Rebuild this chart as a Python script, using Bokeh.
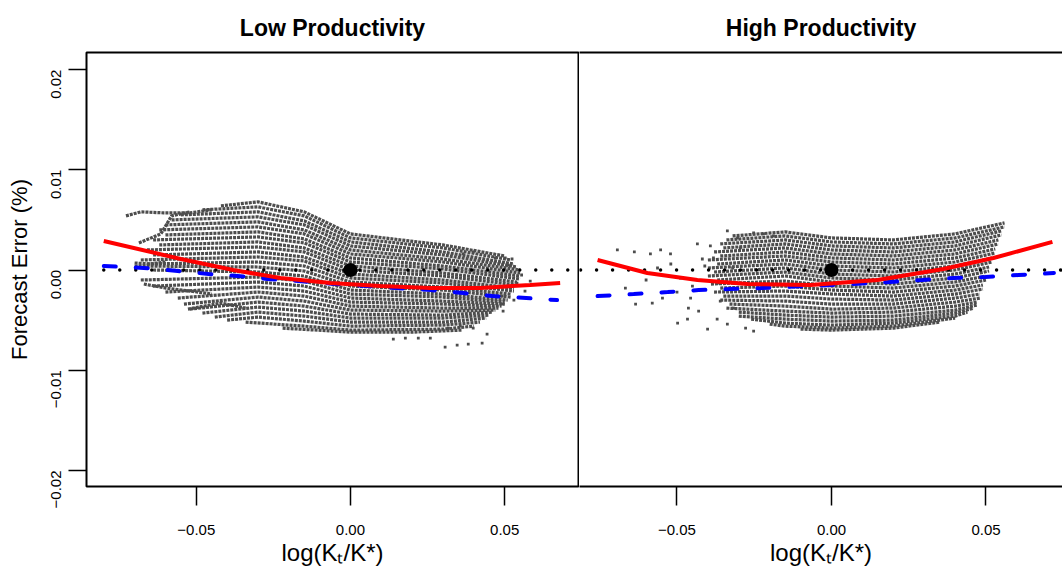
import math
from bokeh.plotting import figure
from bokeh.models import Range1d, FixedTicker, LinearAxis
from bokeh.layouts import row
from bokeh.embed import file_html
from bokeh.resources import INLINE

# ---------------- data ----------------
panel_titles = ["Low Productivity", "High Productivity"]
x_axis_title = "log(K\u209c/K*)"
y_axis_title = "Forecast Error (%)"
x_ticks = [-0.05, 0.0, 0.05]
x_tick_labels = ["\u22120.05", "0.00", "0.05"]
y_ticks = [-0.02, -0.01, 0.0, 0.01, 0.02]
y_tick_labels = ["\u22120.02", "\u22120.01", "0.00", "0.01", "0.02"]

# steady state point
ss_x = [0.0]
ss_y = [0.0]

# Low productivity: fitted curves
low_red_x = [-0.080, -0.055, -0.038, -0.0227, -0.0065, 0.0097, 0.0259, 0.042, 0.0583, 0.068]
low_red_y = [0.0029, 0.0011, 0.0000, -0.0008, -0.0013, -0.0016, -0.0018, -0.0018, -0.0015, -0.0013]
low_blue_x = [-0.080, -0.067, -0.056, -0.046, -0.0366, -0.027, -0.017, 0.000, 0.015, 0.026, 0.0366, 0.046, 0.057, 0.067]
low_blue_y = [0.0004, 0.0002, -0.0001, -0.0004, -0.0006, -0.0009, -0.0011, -0.0015, -0.0018, -0.0020, -0.0023, -0.0026, -0.0028, -0.0030]
low_zero_x = [-0.080, 0.0739]
low_zero_y = [0.0, 0.0]

# High productivity: fitted curves
high_red_x = [-0.0757, -0.0596, -0.0434, -0.0272, -0.0068, 0.0149, 0.0362, 0.0524, 0.0715]
high_red_y = [0.0010, -0.0003, -0.0010, -0.0014, -0.0015, -0.0010, 0.0001, 0.0012, 0.0028]
high_blue_x = [-0.0757, -0.064, -0.053, -0.043, -0.0327, -0.0223, 0.000, 0.019, 0.0294, 0.0395, 0.0498, 0.0605, 0.0720]
high_blue_y = [-0.0026, -0.0024, -0.0022, -0.0020, -0.0019, -0.0018, -0.0015, -0.0012, -0.0010, -0.0008, -0.0007, -0.0005, -0.0003]
high_zero_x = [-0.0812, 0.0748]
high_zero_y = [0.0, 0.0]

# Low productivity: simulated paths (streaks of points)
low_inner_x = [-0.030, -0.015, 0.000, 0.030]
low_path_start = [-0.042, -0.048, -0.055, -0.058, -0.060, -0.062, -0.060, -0.064, -0.062, -0.066,
                  -0.064, -0.068, -0.066, -0.070, -0.064, -0.068, -0.064, -0.060, -0.056, -0.054,
                  -0.052, -0.048, -0.044, -0.040]
low_path_end = [0.050, 0.052, 0.053, 0.054, 0.055, 0.055, 0.055, 0.055, 0.054, 0.054,
                0.053, 0.053, 0.052, 0.052, 0.051, 0.050, 0.050, 0.049, 0.048, 0.047,
                0.046, 0.045, 0.044, 0.042]
low_path_y = [
    [0.0064, 0.0068, 0.0058, 0.0036, 0.0025, 0.0014],
    [0.0060, 0.0063, 0.0054, 0.0032, 0.0022, 0.0010],
    [0.0055, 0.0058, 0.0049, 0.0028, 0.0018, 0.0006],
    [0.0050, 0.0053, 0.0045, 0.0024, 0.0015, 0.0003],
    [0.0045, 0.0048, 0.0040, 0.0020, 0.0011, 0.0000],
    [0.0040, 0.0043, 0.0036, 0.0016, 0.0008, -0.0003],
    [0.0035, 0.0038, 0.0031, 0.0012, 0.0004, -0.0006],
    [0.0030, 0.0033, 0.0027, 0.0008, 0.0001, -0.0009],
    [0.0025, 0.0028, 0.0022, 0.0004, -0.0003, -0.0012],
    [0.0020, 0.0023, 0.0018, 0.0000, -0.0006, -0.0015],
    [0.0015, 0.0018, 0.0013, -0.0004, -0.0010, -0.0018],
    [0.0010, 0.0013, 0.0009, -0.0008, -0.0013, -0.0021],
    [0.0006, 0.0008, 0.0004, -0.0012, -0.0017, -0.0024],
    [0.0004, 0.0003, -0.0001, -0.0016, -0.0020, -0.0027],
    [0.0000, -0.0002, -0.0006, -0.0020, -0.0024, -0.0030],
    [-0.0010, -0.0007, -0.0011, -0.0024, -0.0027, -0.0032],
    [-0.0016, -0.0012, -0.0016, -0.0028, -0.0031, -0.0034],
    [-0.0022, -0.0017, -0.0021, -0.0032, -0.0034, -0.0036],
    [-0.0028, -0.0022, -0.0026, -0.0036, -0.0038, -0.0038],
    [-0.0034, -0.0027, -0.0031, -0.0040, -0.0041, -0.0040],
    [-0.0039, -0.0032, -0.0036, -0.0044, -0.0045, -0.0042],
    [-0.0043, -0.0037, -0.0041, -0.0048, -0.0048, -0.0045],
    [-0.0047, -0.0042, -0.0046, -0.0052, -0.0052, -0.0048],
    [-0.0050, -0.0047, -0.0051, -0.0056, -0.0055, -0.0052],
]
# extra short paths (tails and bottom edge)
low_extra_x = [
    [-0.0728, -0.068, -0.0605, -0.052, -0.045],
    [-0.0686, -0.0615, -0.058, -0.052],
    [-0.070, -0.065, -0.060],
    [-0.067, -0.060, -0.052, -0.045],
    [-0.0527, -0.042, -0.034],
    [-0.034, -0.015, 0.000, 0.030, 0.040],
    [-0.022, 0.000, 0.020, 0.036],
]
low_extra_y = [
    [0.0054, 0.0058, 0.0057, 0.0057, 0.0060],
    [0.0027, 0.0036, 0.0054, 0.0058],
    [0.0007, 0.0006, 0.0008],
    [-0.0014, -0.0018, -0.0021, -0.0024],
    [-0.0039, -0.0033, -0.0038],
    [-0.0052, -0.0056, -0.0060, -0.0059, -0.0056],
    [-0.0058, -0.0062, -0.0062, -0.0060],
]
low_scatter_x = [0.0307, 0.0346, 0.0382, 0.0427, 0.0443, 0.0398, 0.0495, 0.0495, 0.0492, 0.0524,
                 0.0502, 0.047, 0.0583, 0.054, 0.0566, 0.0398, 0.0366, 0.0356, 0.0317, 0.0259,
                 0.022, 0.0178, 0.0139, 0.0555, 0.0530, 0.0510]
low_scatter_y = [-0.0077, -0.0075, -0.0074, -0.0073, -0.0064, -0.0058, -0.0041, -0.0034, -0.0026, 0.0011,
                 0.0012, 0.0012, -0.0011, -0.0013, -0.0021, 0.0018, 0.0016, -0.0056, -0.0058, -0.0068,
                 -0.0068, -0.0068, -0.0069, -0.0005, -0.0030, 0.0005]

# High productivity: simulated paths
high_inner_x = [-0.015, 0.000, 0.020, 0.040]
high_path_start = [-0.032, -0.034, -0.036, -0.035, -0.038, -0.036, -0.040, -0.037, -0.040, -0.038,
                   -0.040, -0.037, -0.039, -0.036, -0.038, -0.035, -0.036, -0.033, -0.034, -0.030,
                   -0.030, -0.026]
high_path_end = [0.056, 0.056, 0.055, 0.055, 0.054, 0.054, 0.053, 0.053, 0.052, 0.052,
                 0.051, 0.051, 0.050, 0.050, 0.049, 0.049, 0.048, 0.048, 0.047, 0.047,
                 0.046, 0.044]
high_path_y = [
    [0.0034, 0.0038, 0.0032, 0.0030, 0.0036, 0.0047],
    [0.0030, 0.0034, 0.0028, 0.0026, 0.0032, 0.0043],
    [0.0026, 0.0030, 0.0024, 0.0022, 0.0028, 0.0039],
    [0.0022, 0.0026, 0.0020, 0.0018, 0.0024, 0.0035],
    [0.0018, 0.0022, 0.0016, 0.0014, 0.0020, 0.0030],
    [0.0014, 0.0018, 0.0012, 0.0010, 0.0016, 0.0026],
    [0.0010, 0.0014, 0.0008, 0.0006, 0.0012, 0.0021],
    [0.0006, 0.0010, 0.0004, 0.0002, 0.0008, 0.0017],
    [0.0002, 0.0006, 0.0000, -0.0002, 0.0004, 0.0012],
    [-0.0002, 0.0002, -0.0004, -0.0006, 0.0000, 0.0008],
    [-0.0006, -0.0002, -0.0008, -0.0010, -0.0004, 0.0003],
    [-0.0010, -0.0006, -0.0012, -0.0014, -0.0008, -0.0001],
    [-0.0014, -0.0011, -0.0016, -0.0018, -0.0012, -0.0006],
    [-0.0018, -0.0016, -0.0020, -0.0022, -0.0016, -0.0010],
    [-0.0022, -0.0021, -0.0024, -0.0026, -0.0020, -0.0015],
    [-0.0026, -0.0026, -0.0029, -0.0030, -0.0024, -0.0019],
    [-0.0030, -0.0031, -0.0034, -0.0034, -0.0028, -0.0024],
    [-0.0034, -0.0036, -0.0039, -0.0038, -0.0032, -0.0028],
    [-0.0038, -0.0041, -0.0043, -0.0042, -0.0036, -0.0032],
    [-0.0042, -0.0045, -0.0047, -0.0046, -0.0040, -0.0035],
    [-0.0046, -0.0049, -0.0051, -0.0050, -0.0043, -0.0038],
    [-0.0049, -0.0053, -0.0055, -0.0053, -0.0046, -0.0042],
]
high_extra_x = [
    [-0.020, -0.015, 0.000, 0.020, 0.040],
    [-0.010, 0.000, 0.020, 0.035],
]
high_extra_y = [
    [-0.0054, -0.0056, -0.0058, -0.0056, -0.0048],
    [-0.0059, -0.0060, -0.0058, -0.0052],
]
high_scatter_x = [-0.0693, -0.0638, -0.0586, -0.0553, -0.0521, -0.0667, -0.0634, -0.058, -0.0547, -0.0498,
                  -0.0466, -0.0463, -0.0489, -0.0434, -0.0392, -0.0337, -0.0401, -0.043, -0.052, -0.0563,
                  -0.0456, -0.0418, -0.0382, -0.0366, -0.036, -0.037, -0.0337, -0.0304, -0.0295, -0.032,
                  -0.0317, -0.0278, -0.0252, -0.0252, -0.022, -0.0188, -0.0450, -0.0410, -0.0600, -0.0500]
high_scatter_y = [0.0020, 0.0018, 0.0016, 0.0020, 0.0016, -0.0018, -0.0034, -0.0033, -0.0028, -0.0053,
                  -0.0049, -0.0038, -0.0008, 0.0026, 0.0024, 0.0039, -0.0059, -0.0041, 0.0006, 0.0002,
                  -0.0028, 0.0011, 0.0012, -0.0013, -0.0031, -0.0049, -0.0054, 0.0032, 0.0022, 0.0002,
                  -0.0038, -0.0058, -0.0061, 0.0037, 0.0036, 0.0034, -0.0016, 0.0004, -0.0010, -0.0022]

# ---------------- styling ----------------
FONT = "Liberation Sans"
GRAY = "#4d4d4d"
H = 570


def build_paths(inner, starts, ends, ys):
    xs = []
    for s, e in zip(starts, ends):
        xs.append([s] + list(inner) + [e])
    return xs, ys


def make_panel(title, xr, yr, width, left_border, right_border, show_y):
    p = figure(width=width, height=H, x_range=Range1d(*xr), y_range=Range1d(*yr),
               output_backend="svg", toolbar_location=None,
               min_border_left=left_border, min_border_right=right_border,
               min_border_top=52, min_border_bottom=84,
               y_axis_location="left" if show_y else None)
    p.grid.visible = False
    p.background_fill_color = "white"
    p.border_fill_color = "white"

    p.title.text = title
    p.title.align = "center"
    p.title.vertical_align = "top"
    p.title.text_font = FONT
    p.title.text_font_size = "23px"
    p.title.text_font_style = "bold"
    p.title.text_color = "black"
    p.title.standoff = 20

    xa = p.xaxis[0]
    xa.ticker = FixedTicker(ticks=x_ticks)
    xa.major_label_overrides = {t: l for t, l in zip(x_ticks, x_tick_labels)}
    xa.minor_tick_line_color = None
    xa.major_tick_out = 19
    xa.major_tick_in = 0
    xa.major_tick_line_width = 1.5
    xa.major_tick_line_color = "black"
    xa.major_label_text_font = FONT
    xa.major_label_text_font_size = "15px"
    xa.major_label_text_color = "black"
    xa.major_label_standoff = 19
    xa.axis_label = x_axis_title
    xa.axis_label_text_font = FONT
    xa.axis_label_text_font_size = "24px"
    xa.axis_label_text_font_style = "normal"
    xa.axis_label_text_color = "black"
    xa.axis_label_standoff = 1

    if show_y:
        xa.axis_line_color = None
        ax = p.yaxis[0]
        ax.ticker = FixedTicker(ticks=y_ticks)
        ax.major_label_overrides = {t: l for t, l in zip(y_ticks, y_tick_labels)}
        ax.minor_tick_line_color = None
        ax.axis_line_color = None
        ax.major_tick_out = 18
        ax.major_tick_in = 0
        ax.major_tick_line_width = 1.5
        ax.major_tick_line_color = "black"
        ax.major_label_orientation = math.pi / 2
        ax.major_label_text_font = FONT
        ax.major_label_text_font_size = "15px"
        ax.major_label_text_color = "black"
        ax.major_label_standoff = 12
        ax.axis_label = y_axis_title
        ax.axis_label_text_font = FONT
        ax.axis_label_text_font_size = "22px"
        ax.axis_label_text_font_style = "normal"
        ax.axis_label_text_color = "black"
        ax.axis_label_standoff = 12
        p.outline_line_color = "black"
        p.outline_line_width = 2
    else:
        # open-ended box: bottom and top edges only (left edge is shared)
        p.outline_line_color = None
        xa.axis_line_color = "black"
        xa.axis_line_width = 2
        top = LinearAxis(ticker=FixedTicker(ticks=[]), axis_line_color="black", axis_line_width=2,
                         major_tick_out=0, major_tick_in=0, minor_tick_out=0, minor_tick_in=0,
                         major_label_text_font_size="0px")
        p.add_layout(top, "above")
    return p


def draw(p, inner, starts, ends, ys, ex_x, ex_y, sc_x, sc_y, red_x, red_y, blue_x, blue_y, z_x, z_y):
    xs, yss = build_paths(inner, starts, ends, ys)
    p.multi_line(xs=xs, ys=yss, line_color=GRAY, line_width=3.2, line_dash="3 1")
    p.multi_line(xs=ex_x, ys=ex_y, line_color=GRAY, line_width=3.2, line_dash="3 1")
    p.scatter(sc_x, sc_y, marker="square", size=2.8, fill_color=GRAY, line_color=None)
    p.line(z_x, z_y, line_color="black", line_width=3.5, line_dash="0 16", line_cap="round")
    p.line(blue_x, blue_y, line_color="blue", line_width=4, line_dash="12 20", line_cap="round")
    p.line(red_x, red_y, line_color="red", line_width=4)
    p.scatter(ss_x, ss_y, marker="circle", size=14, fill_color="black", line_color=None)


p1 = make_panel(panel_titles[0], (-0.0856, 0.07395), (-0.0216, 0.0217), 579, 86, 1, True)
draw(p1, low_inner_x, low_path_start, low_path_end, low_path_y, low_extra_x, low_extra_y,
     low_scatter_x, low_scatter_y, low_red_x, low_red_y, low_blue_x, low_blue_y, low_zero_x, low_zero_y)

p2 = make_panel(panel_titles[1], (-0.08155, 0.07476), (-0.0216, 0.0217), 483, 0, 0, False)
draw(p2, high_inner_x, high_path_start, high_path_end, high_path_y, high_extra_x, high_extra_y,
     high_scatter_x, high_scatter_y, high_red_x, high_red_y, high_blue_x, high_blue_y, high_zero_x, high_zero_y)

layout = row(p1, p2, spacing=0)
open("out.html", "w").write(file_html(layout, INLINE))
